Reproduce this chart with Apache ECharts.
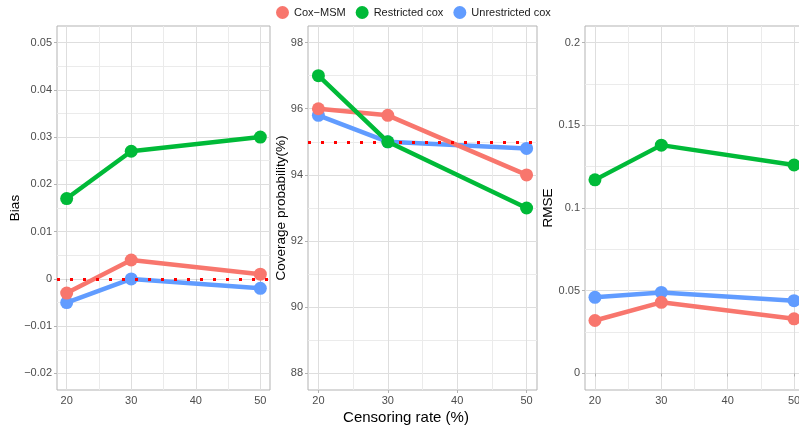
<!DOCTYPE html>
<html>
<head>
<meta charset="utf-8">
<script src="https://cdn.jsdelivr.net/npm/echarts@6/dist/echarts.min.js"></script>
<style>html,body{margin:0;padding:0;background:#fff}#c{width:799px;height:430px}</style>
</head>
<body>
<div id="c"></div>
<script>
const censoring = [20, 30, 50];
const methods = ['Cox\u2212MSM', 'Restricted cox', 'Unrestricted cox'];

const biasCoxMSM = [-0.003, 0.004, 0.001];
const biasRestricted = [0.017, 0.027, 0.030];
const biasUnrestricted = [-0.005, 0.000, -0.002];

const covCoxMSM = [96.0, 95.8, 94.0];
const covRestricted = [97.0, 95.0, 93.0];
const covUnrestricted = [95.8, 95.0, 94.8];

const rmseCoxMSM = [0.032, 0.043, 0.033];
const rmseRestricted = [0.117, 0.138, 0.126];
const rmseUnrestricted = [0.046, 0.049, 0.044];

const xTicks = [20, 30, 40, 50];
const xMinorTicks = [25, 35, 45];
const biasTicks = [-0.02, -0.01, 0, 0.01, 0.02, 0.03, 0.04, 0.05];
const biasMinorTicks = [-0.015, -0.005, 0.005, 0.015, 0.025, 0.035, 0.045];
const covTicks = [88, 90, 92, 94, 96, 98];
const covMinorTicks = [89, 91, 93, 95, 97];
const rmseTicks = [0, 0.05, 0.1, 0.15, 0.2];
const rmseMinorTicks = [0.025, 0.075, 0.125, 0.175];
const refValues = [0, 95];

const colors = ['#F8766D', '#00BA38', '#619CFF'];
const FONT = 'Liberation Sans, Arial, Helvetica, sans-serif';
const BORDER = '#B3B3B3';

const panels = [
  {name: 'Bias', data: [biasCoxMSM, biasRestricted, biasUnrestricted], min: -0.0235, max: 0.0535,
   ticks: biasTicks, minor: biasMinorTicks, ref: refValues[0], gap: 35},
  {name: 'Coverage probability(%)', data: [covCoxMSM, covRestricted, covUnrestricted], min: 87.5, max: 98.5,
   ticks: covTicks, minor: covMinorTicks, ref: refValues[1], gap: 19.25},
  {name: 'RMSE', data: [rmseCoxMSM, rmseRestricted, rmseUnrestricted], min: -0.01, max: 0.21,
   ticks: rmseTicks, minor: rmseMinorTicks, ref: null, gap: 29.25}
];

const gridBoxes = [
  {left: 57, top: 26, width: 213, height: 364},
  {left: 308, top: 26, width: 229, height: 364},
  {left: 585, top: 26, width: 219, height: 364}
];

function fmt(v) {
  return String(+(+v).toFixed(4)).replace('-', '\u2212');
}

const grid = [], xAxis = [], yAxis = [], series = [];
panels.forEach((p, g) => {
  grid.push(Object.assign({show: true, borderColor: BORDER, borderWidth: 1, backgroundColor: 'transparent',
    containLabel: false, outerBoundsMode: 'none'}, gridBoxes[g]));
  xAxis.push({type: 'value', gridIndex: g, min: 18.5, max: 51.5,
    axisLine: {show: false},
    axisTick: {show: true, length: 3, lineStyle: {color: BORDER}, customValues: xTicks},
    axisLabel: {customValues: xTicks, formatter: fmt, color: '#4D4D4D', fontSize: 11, fontFamily: FONT, margin: 5},
    splitLine: {show: true, lineStyle: {color: '#DEDEDE', width: 1}}
  });
  xAxis.push({type: 'value', gridIndex: g, min: 18.5, max: 51.5, position: 'top',
    axisLine: {show: false},
    axisTick: {show: false, customValues: xMinorTicks},
    axisLabel: {show: false, customValues: xMinorTicks},
    splitLine: {show: true, lineStyle: {color: '#EBEBEB', width: 1}}
  });
  yAxis.push({type: 'value', gridIndex: g, min: p.min, max: p.max,
    name: p.name, nameLocation: 'middle', nameGap: p.gap, nameMoveOverlap: false,
    nameTextStyle: {color: '#000', fontSize: 13.5, fontFamily: FONT},
    axisLine: {show: false},
    axisTick: {show: true, length: 3, lineStyle: {color: BORDER}, customValues: p.ticks},
    axisLabel: {customValues: p.ticks, formatter: fmt, color: '#4D4D4D', fontSize: 11, fontFamily: FONT, margin: 5},
    splitLine: {show: true, lineStyle: {color: '#DEDEDE', width: 1}}
  });
  yAxis.push({type: 'value', gridIndex: g, min: p.min, max: p.max, position: 'right',
    axisLine: {show: false},
    axisTick: {show: false, customValues: p.minor},
    axisLabel: {show: false, customValues: p.minor},
    splitLine: {show: true, lineStyle: {color: '#EBEBEB', width: 1}}
  });
  const zs = [4, 5, 3];
  p.data.forEach((vals, m) => {
    series.push({
      type: 'line', name: methods[m], xAxisIndex: 2 * g, yAxisIndex: 2 * g,
      data: censoring.map((c, i) => [c, vals[i]]),
      symbol: 'circle', symbolSize: 13, showSymbol: true,
      lineStyle: {color: colors[m], width: 4.5},
      itemStyle: {color: colors[m]},
      z: zs[m], animation: false, silent: true, clip: false
    });
  });
  if (p.ref !== null) {
    series.push({
      type: 'line', xAxisIndex: 2 * g, yAxisIndex: 2 * g, data: [], z: 10, animation: false,
      markLine: {silent: true, symbol: 'none', animation: false,
        label: {show: false},
        lineStyle: {color: '#FF0000', type: [3, 10], width: 3, cap: 'butt'},
        data: [{yAxis: p.ref}]}
    });
  }
});

const chart = echarts.init(document.getElementById('c'));
chart.setOption({
  animation: false,
  backgroundColor: '#fff',
  color: colors,
  legend: {data: methods, left: 276, top: 6, padding: 0, icon: 'circle', itemWidth: 13, itemHeight: 13, itemGap: 10,
    textStyle: {fontSize: 11, color: '#1A1A1A', fontFamily: FONT}},
  grid, xAxis, yAxis, series,
  graphic: [{type: 'text', x: 406, y: 418, silent: true,
    style: {text: 'Censoring rate (%)', fontSize: 15, fontFamily: FONT, fill: '#000', align: 'center', verticalAlign: 'middle'}}]
});
</script>
</body>
</html>
